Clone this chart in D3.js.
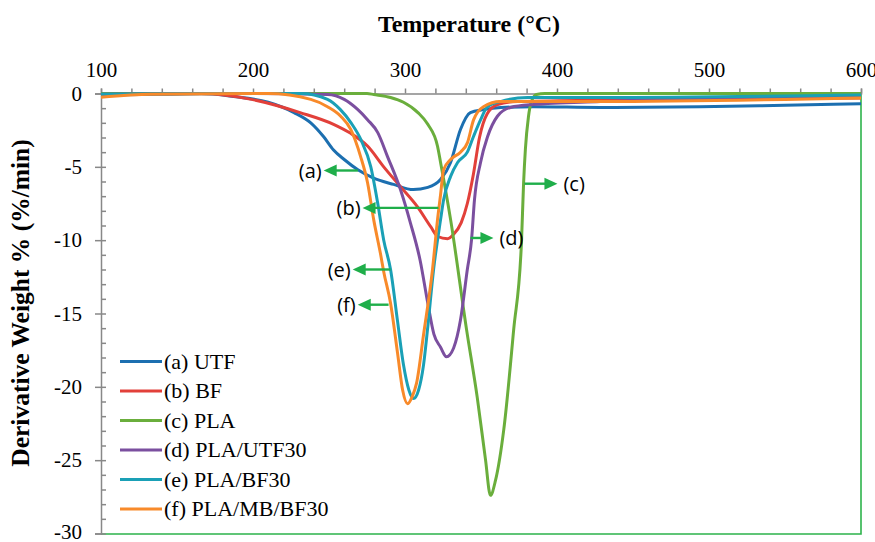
<!DOCTYPE html>
<html>
<head>
<meta charset="utf-8">
<script src="https://cdn.jsdelivr.net/npm/d3@7"></script>
<style>
    body { margin: 0; background: #fff; }
    svg { display: block; }
</style>
</head>
<body>
<div id="chart-container"></div>
<script>
// temperatures (°C) and derivative weight (%/min)
const utfT = [100, 140, 166, 187, 210, 227, 238, 246.5, 253, 260, 269, 279, 292.5, 305.5, 315, 323.5, 330, 336.5, 343, 351.5, 363, 384.5, 428.5, 494, 550, 600];
const utfV = [-0.1, -0.05, 0, -0.2, -0.6, -1.3, -2.0, -2.95, -3.85, -4.5, -5.2, -5.75, -6.2, -6.55, -6.4, -5.85, -4.7, -2.45, -1.3, -1.1, -0.95, -0.9, -0.95, -0.9, -0.8, -0.7];

const bfT = [100, 140, 166, 199, 231, 253, 264, 275.5, 286, 297, 308, 317, 321.5, 328, 332, 337, 341, 345, 349, 354, 361, 374, 428.5, 520, 600];
const bfV = [-0.1, 0, 0, -0.4, -1.3, -2.1, -2.7, -3.6, -5.0, -6.35, -7.7, -9.1, -9.75, -9.9, -9.6, -8.8, -7.5, -5.5, -3.0, -1.4, -0.75, -0.55, -0.45, -0.35, -0.3];

const plaT = [100, 275, 279.5, 290.5, 299, 308.5, 315, 321.4, 323.4, 330, 340.5, 347.5, 353, 356.2, 359.5, 365, 371.5, 376.6, 378, 379.2, 381.2, 383.2, 386.5, 392, 600];
const plaV = [0, 0, -0.07, -0.27, -0.6, -1.3, -2.1, -3.6, -4.7, -8.6, -16.1, -20.7, -25.0, -27.4, -26.4, -22.9, -16.1, -10.2, -6.15, -3.8, -1.6, -0.55, -0.07, 0, 0];

const putfT = [100, 200, 249, 260, 269, 275.5, 282, 288.5, 297, 303.5, 310, 315, 319, 323.4, 327.3, 332, 336.5, 341, 343.8, 345.7, 349.7, 354.3, 360.8, 369.4, 384.5, 428.5, 516, 600];
const putfV = [-0.05, 0, -0.07, -0.4, -1.1, -1.8, -2.65, -4.3, -6.55, -8.8, -11.4, -14.3, -16.4, -17.3, -17.95, -17.35, -15.45, -12.0, -9.95, -7.25, -4.7, -2.95, -1.55, -0.95, -0.75, -0.55, -0.3, -0.15];

const pbfT = [100, 200, 231.5, 249, 257.5, 264.5, 271, 277.5, 282, 286, 290.5, 295, 299, 302.5, 305.6, 309, 312.2, 314.8, 318.8, 323.4, 325.4, 330, 334.6, 341, 345, 349.7, 354.3, 362.8, 380.6, 428.5, 600];
const pbfV = [-0.05, 0, 0, -0.4, -1.1, -2.0, -3.15, -5.0, -7.45, -10.0, -12.0, -15.45, -18.5, -20.2, -20.8, -20.2, -18.5, -16.1, -12.0, -8.6, -7.25, -5.65, -4.7, -4.0, -2.95, -1.8, -0.9, -0.55, -0.27, -0.27, -0.1];

const pmbT = [100, 133, 210, 238, 249, 257.7, 264.3, 270.8, 275.4, 279.4, 284, 286, 290.5, 295.1, 298.4, 301.7, 305, 307.6, 312.2, 318.1, 321.4, 323.4, 325.4, 330, 336.5, 341.1, 345.1, 351.6, 362.8, 428.5, 600];
const pmbV = [-0.25, -0.05, 0, -0.4, -0.9, -1.55, -2.45, -4.3, -6.1, -8.6, -11.0, -12.15, -14.3, -17.7, -20.2, -21.15, -20.6, -19.75, -16.45, -12.0, -8.6, -6.9, -5.2, -4.5, -4.0, -3.35, -1.8, -0.9, -0.55, -0.55, -0.3];

const seriesNames = ["(a) UTF", "(b) BF", "(c) PLA", "(d) PLA/UTF30", "(e) PLA/BF30", "(f) PLA/MB/BF30"];
const seriesColors = ["#1c6fb0", "#e2403a", "#6aae3c", "#7b4f9f", "#1aa0b6", "#f88a2a"];

const xTickLabels = [100, 200, 300, 400, 500, 600];
const yTickLabels = [0, -5, -10, -15, -20, -25, -30];

// arrow annotations: label, value level, tail temp, head temp
const noteLabels = ["(a)", "(b)", "(c)", "(d)", "(e)", "(f)"];
const noteV = [-5.25, -7.8, -6.15, -9.85, -12.0, -14.4];
const noteTail = [269, 322, 378.6, 343.1, 290.5, 289.2];
const noteHead = [246.5, 272.1, 400.3, 358.2, 265.6, 268.9];

document.addEventListener("DOMContentLoaded", () => {
    const svgW = 875;
    const svgH = 542;
    const left = 101;
    const right = 861;
    const top = 93.5;
    const bottom = 533.5;
    const gray = "#888";
    const border = "#2db34b";
    const serif = "'Liberation Serif', 'Times New Roman', serif";

    const series = [
        [utfT, utfV], [bfT, bfV], [plaT, plaV],
        [putfT, putfV], [pbfT, pbfV], [pmbT, pmbV]
    ].map(([t, v], i) => ({
        name: seriesNames[i],
        color: seriesColors[i],
        points: t.map((d, j) => ({ t: d, v: v[j] }))
    }));

    const xScale = d3.scaleLinear()
    .domain([100, 600])
    .range([left, right]);

    const yScale = d3.scaleLinear()
    .domain([-30, 0])
    .range([bottom, top]);

    const svg = d3.select("#chart-container")
    .append("svg")
    .attr("width", svgW)
    .attr("height", svgH);

    // green plot-area border, right and bottom
    svg.append("path")
    .attr("d", `M${left},${bottom + 0.5}H${right}V${top}`)
    .attr("fill", "none")
    .attr("stroke", border)
    .attr("stroke-width", 1.6);

    // top temperature axis, a tick every 20 °C
    const xAxis = svg.append("g")
    .attr("transform", `translate(0, ${top})`)
    .call(d3.axisTop(xScale)
        .tickValues(d3.range(100, 601, 20))
        .tickSize(5)
        .tickPadding(12)
        .tickFormat(d => xTickLabels.includes(d) ? d : ""));

    // left axis: minor ticks inside, major ticks outside
    const yMinor = svg.append("g")
    .attr("transform", `translate(${left}, 0)`)
    .call(d3.axisRight(yScale)
        .tickValues(d3.range(-30, 1, 1))
        .tickSize(5)
        .tickFormat(""));

    const yAxis = svg.append("g")
    .attr("transform", `translate(${left}, 0)`)
    .call(d3.axisLeft(yScale)
        .tickValues(yTickLabels)
        .tickSize(6)
        .tickPadding(13)
        .tickFormat(d3.format("d")));

    [xAxis, yMinor, yAxis].forEach(g => {
        g.select(".domain").attr("stroke", gray).attr("stroke-width", 1.5);
        g.selectAll(".tick line").attr("stroke", gray).attr("stroke-width", 1.5);
        g.selectAll("text")
        .attr("fill", "#000")
        .style("font-family", serif)
        .style("font-size", "21px");
    });
    yMinor.select(".domain").remove();
    yAxis.selectAll(".tick text")
    .text(d => d === 0 ? "0" : "-" + Math.abs(d))
    .attr("dy", d => d === -30 ? "0.25em" : "0.32em");

    const line = d3.line()
    .x(d => xScale(d.t))
    .y(d => yScale(d.v))
    .curve(d3.curveMonotoneX);

    svg.append("g")
    .selectAll("path")
    .data(series)
    .enter()
    .append("path")
    .attr("d", d => line(d.points))
    .attr("fill", "none")
    .attr("stroke", d => d.color)
    .attr("stroke-width", 3)
    .attr("stroke-linejoin", "round");

    // arrows
    const arrowGreen = "#1fae4a";
    const notes = noteLabels.map((label, i) => ({
        label: label,
        y: yScale(noteV[i]),
        x0: xScale(noteTail[i]),
        x1: xScale(noteHead[i])
    }));

    const noteG = svg.append("g");

    noteG.selectAll("line")
    .data(notes)
    .enter()
    .append("line")
    .attr("x1", d => d.x0)
    .attr("x2", d => d.x1 + (d.x1 < d.x0 ? 8 : -8))
    .attr("y1", d => d.y)
    .attr("y2", d => d.y)
    .attr("stroke", arrowGreen)
    .attr("stroke-width", 2.4);

    noteG.selectAll("path")
    .data(notes)
    .enter()
    .append("path")
    .attr("d", d => {
        const dir = d.x1 < d.x0 ? 1 : -1;
        return `M${d.x1},${d.y}L${d.x1 + dir * 13},${d.y - 6}L${d.x1 + dir * 13},${d.y + 6}Z`;
    })
    .attr("fill", arrowGreen);

    noteG.selectAll("text")
    .data(notes)
    .enter()
    .append("text")
    .text(d => d.label)
    .attr("x", d => d.x1 < d.x0 ? d.x1 - 2 : d.x1 + 6)
    .attr("y", d => d.y + 7)
    .style("text-anchor", d => d.x1 < d.x0 ? "end" : "start")
    .style("font-family", "'Open Sans', 'Liberation Sans', sans-serif")
    .style("font-size", "20px");

    // titles
    svg.append("text")
    .text("Temperature (°C)")
    .attr("x", 469)
    .attr("y", 32)
    .style("text-anchor", "middle")
    .style("font-family", serif)
    .style("font-weight", "bold")
    .style("font-size", "24px");

    svg.append("text")
    .text("Derivative Weight % (%/min)")
    .attr("transform", "translate(29, 303) rotate(-90)")
    .style("text-anchor", "middle")
    .style("font-family", serif)
    .style("font-weight", "bold")
    .style("font-size", "25.5px");

    // legend
    const legend = svg.append("g")
    .selectAll("g")
    .data(series)
    .enter()
    .append("g")
    .attr("transform", (_, i) => `translate(120, ${361.5 + i * 29.5})`);

    legend.append("line")
    .attr("x1", 0)
    .attr("x2", 42)
    .attr("stroke", d => d.color)
    .attr("stroke-width", 3);

    legend.append("text")
    .text(d => d.name)
    .attr("x", 44)
    .attr("y", 7)
    .style("font-family", serif)
    .style("font-size", "22px");
});
</script>
</body>
</html>
